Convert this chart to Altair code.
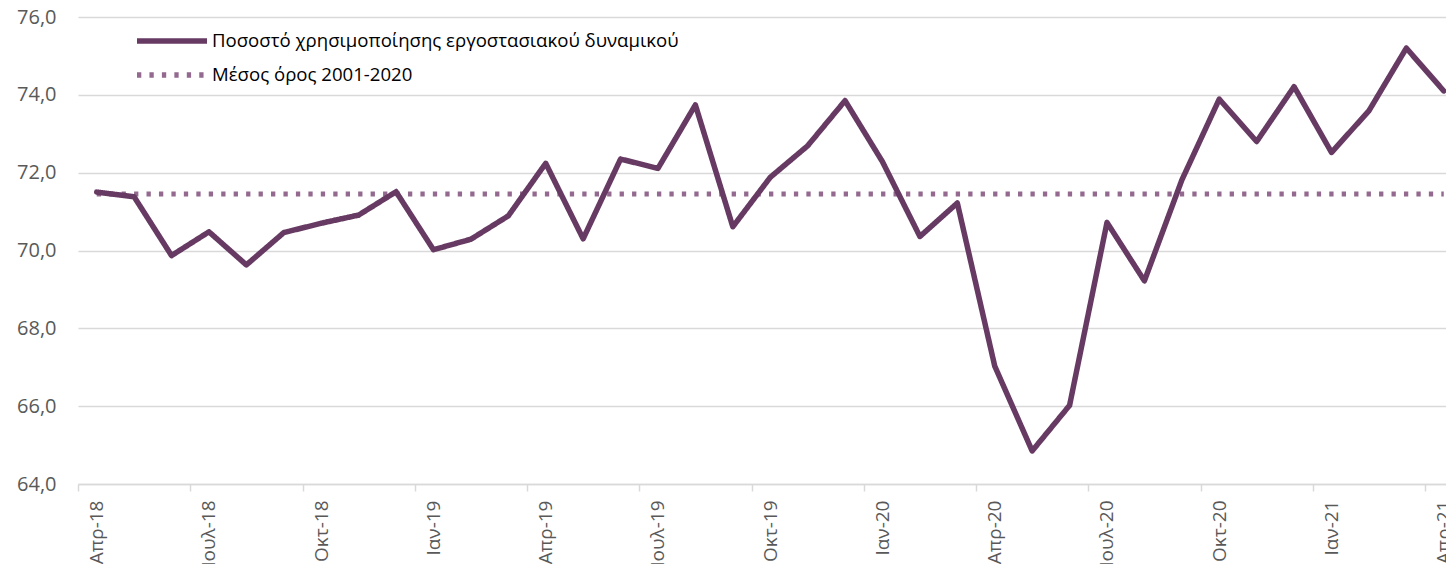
import altair as alt
import pandas as pd

# Month labels (Apr-2018 .. Apr-2021)
months = [
    "Απρ-18", "Μαϊ-18", "Ιουν-18", "Ιουλ-18", "Αυγ-18", "Σεπ-18", "Οκτ-18", "Νοε-18", "Δεκ-18",
    "Ιαν-19", "Φεβ-19", "Μαρ-19", "Απρ-19", "Μαϊ-19", "Ιουν-19", "Ιουλ-19", "Αυγ-19", "Σεπ-19",
    "Οκτ-19", "Νοε-19", "Δεκ-19", "Ιαν-20", "Φεβ-20", "Μαρ-20", "Απρ-20", "Μαϊ-20", "Ιουν-20",
    "Ιουλ-20", "Αυγ-20", "Σεπ-20", "Οκτ-20", "Νοε-20", "Δεκ-20", "Ιαν-21", "Φεβ-21", "Μαρ-21",
    "Απρ-21",
]

# Capacity utilisation (%)
utilisation = [
    71.50, 71.38, 69.87, 70.48, 69.63, 70.46, 70.70, 70.91, 71.51,
    70.02, 70.29, 70.89, 72.24, 70.30, 72.35, 72.11, 73.74, 70.61,
    71.88, 72.69, 73.85, 72.28, 70.36, 71.22, 67.03, 64.85, 66.02,
    70.72, 69.22, 71.81, 73.89, 72.80, 74.21, 72.52, 73.59, 75.20,
    74.10,
]

average_value = 71.45

series_names = [
    "Ποσοστό χρησιμοποίησης εργοστασιακού δυναμικού",
    "Μέσος όρος 2001-2020",
]
series_colors = ["#673A63", "#93698F"]
series_dashes = [[1, 0], [4.3, 8.15]]

y_ticks = [64, 66, 68, 70, 72, 74, 76]

main_df = pd.DataFrame(
    {"idx": list(range(len(months))), "month": months, "value": utilisation,
     "series": series_names[0]}
)
avg_df = pd.DataFrame(
    {"idx": list(range(len(months))), "month": months,
     "value": [average_value] * len(months), "series": series_names[1]}
)

boundary_values = [i - 0.5 for i in range(0, len(months), 3)]
label_lookup = "[" + ",".join("'" + m + "'" for m in months) + "]"

font = "Open Sans"
grey = "#595959"
grid = "#d9d9d9"
px_per_month = 1368 / 36.56

x_enc = alt.X(
    "idx:Q",
    scale=alt.Scale(domain=[-0.5, 36.06], nice=False, zero=False),
    axis=alt.Axis(
        title=None,
        values=boundary_values,
        labelExpr=label_lookup + "[round(datum.value + 0.5)]",
        labelAngle=-90,
        labelAlign="right",
        labelBaseline="middle",
        labelOffset=px_per_month / 2,
        labelPadding=9,
        labelFont=font,
        labelFontSize=19,
        labelColor=grey,
        labelOverlap=False,
        labelBound=False,
        labelFlush=False,
        grid=False,
        ticks=True,
        tickSize=7,
        tickColor=grid,
        tickWidth=1.5,
        domain=True,
        domainColor=grid,
        domainWidth=1.5,
    ),
)
y_enc = alt.Y(
    "value:Q",
    scale=alt.Scale(domain=[64, 76], nice=False, zero=False),
    axis=alt.Axis(
        title=None,
        values=y_ticks,
        labelExpr="replace(format(datum.value, '.1f'), '.', ',')",
        labelFont=font,
        labelFontSize=20,
        labelColor=grey,
        labelPadding=22,
        ticks=False,
        domain=False,
        grid=True,
        gridColor=grid,
        gridWidth=1.5,
    ),
)
color_enc = alt.Color(
    "series:N",
    scale=alt.Scale(domain=series_names, range=series_colors),
    legend=alt.Legend(
        title=None,
        orient="none",
        legendX=56,
        legendY=7,
        symbolType="stroke",
        symbolSize=4900,
        symbolStrokeWidth=5.5,
        labelFont=font,
        labelFontSize=18.6,
        labelColor="#000000",
        labelLimit=1000,
        clipHeight=34,
        rowPadding=0,
        labelOffset=2,
    ),
)
dash_enc = alt.StrokeDash(
    "series:N",
    scale=alt.Scale(domain=series_names, range=series_dashes),
    legend=None,
)

avg_layer = (
    alt.Chart(avg_df)
    .mark_line(strokeWidth=5, strokeCap="butt")
    .encode(x=x_enc, y=y_enc, color=color_enc, strokeDash=dash_enc, order="idx:Q")
)
main_layer = (
    alt.Chart(main_df)
    .mark_line(strokeWidth=5.5, strokeCap="round", strokeJoin="round")
    .encode(x=x_enc, y=y_enc, color=color_enc, strokeDash=dash_enc, order="idx:Q")
)

chart = (
    alt.layer(avg_layer, main_layer)
    .properties(
        width=1368,
        height=467,
        padding={"left": 70, "top": 9, "right": 0, "bottom": 80},
        autosize=alt.AutoSizeParams(type="none"),
    )
    .configure_view(stroke=None)
)

chart.save("out.html", embed_options={"renderer": "svg", "actions": False})
